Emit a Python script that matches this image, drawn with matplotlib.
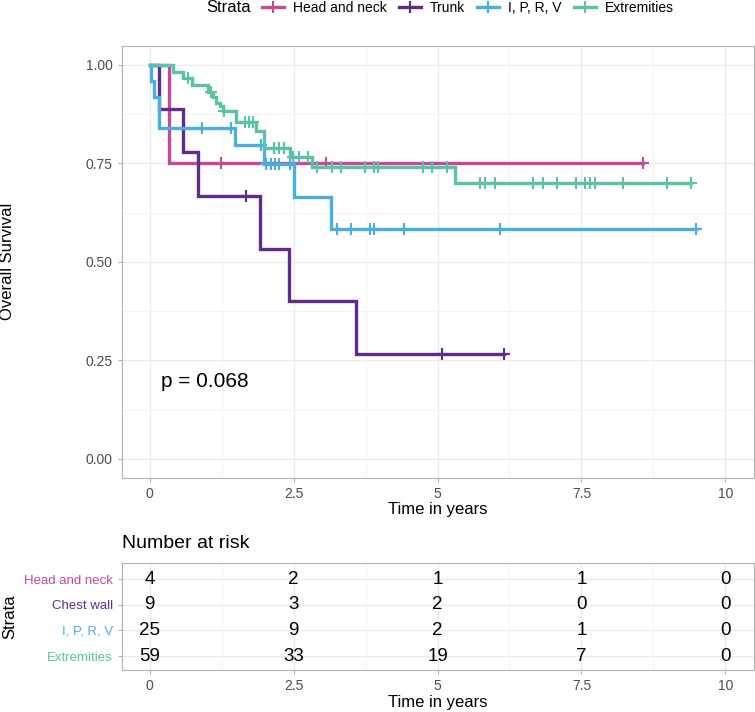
import numpy as np
import matplotlib.pyplot as plt
from matplotlib.lines import Line2D

plt.rcParams['font.family'] = ['Liberation Sans', 'DejaVu Sans']

# Kaplan-Meier step values
hn_t = [0, 0.33, 8.57]
hn_s = [1.0, 0.75, 0.75]
hn_cens = [1.24, 3.07, 8.57]

tr_t = [0, 0.16, 0.58, 0.84, 1.91, 2.42, 3.58, 6.16]
tr_s = [1.0, 0.889, 0.778, 0.667, 0.533, 0.400, 0.267, 0.267]
tr_cens = [1.68, 5.07, 6.16]

ip_t = [0, 0.02, 0.075, 0.16, 1.49, 1.99, 2.50, 3.15, 9.49]
ip_s = [1.0, 0.96, 0.92, 0.84, 0.796, 0.749, 0.666, 0.583, 0.583]
ip_cens = [0.91, 1.42, 1.94, 2.02, 2.11, 2.18, 2.25, 2.43, 3.25, 3.50,
           3.82, 3.90, 4.41, 6.08, 9.49]

ex_t = [0, 0.40, 0.58, 0.74, 1.01, 1.10, 1.16, 1.22, 1.27, 1.50, 1.84,
        1.99, 2.43, 2.82, 5.31, 9.41]
ex_s = [1.0, 0.983, 0.966, 0.949, 0.932, 0.918, 0.904, 0.895, 0.884, 0.855,
        0.832, 0.790, 0.766, 0.740, 0.700, 0.700]
ex_cens = [0.67, 1.06, 1.30, 1.65, 1.72, 1.79, 2.16, 2.25, 2.33, 2.49, 2.59,
           2.75, 2.91, 3.17, 3.32, 3.74, 3.90, 3.97, 4.75, 4.90, 5.17, 5.74,
           5.82, 5.99, 6.66, 6.83, 7.07, 7.41, 7.57, 7.65, 7.73, 8.23, 8.98, 9.41]

legend_labels = ['Head and neck', 'Trunk', 'I, P, R, V', 'Extremities']
table_labels = ['Head and neck', 'Chest wall', 'I, P, R, V', 'Extremities']
colors = ['#C6489B', '#5F2C8E', '#4AAEE4', '#5CC2A7']

risk_times = [0, 2.5, 5, 7.5, 10]
risk_hn = [4, 2, 1, 1, 0]
risk_tr = [9, 3, 2, 0, 0]
risk_ip = [25, 9, 2, 1, 0]
risk_ex = [59, 33, 19, 7, 0]

p_text = 'p = 0.068'

curves = [(hn_t, hn_s, hn_cens), (tr_t, tr_s, tr_cens),
          (ip_t, ip_s, ip_cens), (ex_t, ex_s, ex_cens)]
risks = [risk_hn, risk_tr, risk_ip, risk_ex]

W, H = 755, 712
fig = plt.figure(figsize=(W / 100, H / 100), dpi=100)

def px_axes(l, t, r, b):
    return fig.add_axes([l / W, 1 - b / H, (r - l) / W, (b - t) / H])

ax = px_axes(121.7, 45.7, 753.6, 477.7)
axt = px_axes(121.7, 563.3, 753.6, 670)

xlim = (-0.485, 10.49)
tick_gray = '#4D4D4D'

for a in (ax, axt):
    a.set_xlim(*xlim)
    for s in a.spines.values():
        s.set_color('#B3B3B3')
        s.set_linewidth(0.8)
    a.tick_params(axis='both', colors='#B3B3B3', length=3, width=0.8,
                  labelcolor=tick_gray, labelsize=10)
    a.set_xticks(risk_times)
    a.set_xticklabels(['0', '2.5', '5', '7.5', '10'])
    a.set_xticks([1.25, 3.75, 6.25, 8.75], minor=True)
    a.tick_params(which='minor', length=0)
    a.grid(True, which='major', color='#EBEBEB', lw=1.0)
    a.grid(True, which='minor', color='#F2F2F2', lw=0.6)
    a.set_axisbelow(True)

# survival curves
for (t, s, cens), c in zip(curves, colors):
    ax.step(t, s, where='post', color=c, lw=2.4, solid_joinstyle='miter')
    idx = np.searchsorted(t, cens, side='right') - 1
    cy = np.array(s)[idx]
    ax.plot(cens, cy, ls='none', marker='+', color=c, markersize=8.5, mew=1.5)

ax.set_ylim(-0.048, 1.049)
ax.set_yticks([0, 0.25, 0.5, 0.75, 1.0])
ax.set_yticklabels(['0.00', '0.25', '0.50', '0.75', '1.00'])
ax.set_yticks([0.125, 0.375, 0.625, 0.875], minor=True)
ax.set_xlabel('Time in years', fontsize=12)
ax.xaxis.set_label_coords(0.5, -0.056)
ax.set_ylabel('Overall Survival', fontsize=12)
ax.yaxis.set_label_coords(-0.169, 0.5)
ax.text(0.19, 0.197, p_text, fontsize=15, ha='left', va='center')

# risk table
rows = [4, 3, 2, 1]
for r, vals in zip(rows, risks):
    for tx, v in zip(risk_times, vals):
        axt.text(tx, r, str(v), fontsize=13.5, ha='center', va='center')
axt.set_ylim(0.453, 4.625)
axt.set_yticks(rows)
axt.set_yticklabels(table_labels, fontsize=9.5)
for lab, c in zip(axt.get_yticklabels(), colors):
    lab.set_color(c)
axt.set_xlabel('Time in years', fontsize=12)
axt.xaxis.set_label_coords(0.5, -0.234)
axt.set_ylabel('Strata', fontsize=12)
axt.yaxis.set_label_coords(-0.166, 0.5)
fig.text(122 / W, 1 - 543 / H, 'Number at risk', fontsize=14,
         ha='left', va='center')

# legend on top
handles = [Line2D([], [], color=c, lw=2.4, marker='+', markersize=8.5, mew=1.5)
           for c in colors]
fig.text(206 / W, 1 - 8 / H, 'Strata', fontsize=12, ha='left', va='center')
fig.legend(handles, legend_labels, loc='center left',
           bbox_to_anchor=(262 / W, 1 - 8 / H), ncol=4, frameon=False,
           fontsize=10, handlelength=1.6, handletextpad=0.65,
           columnspacing=0.85, borderpad=0, borderaxespad=0)

fig.savefig('out.png', dpi=100)
